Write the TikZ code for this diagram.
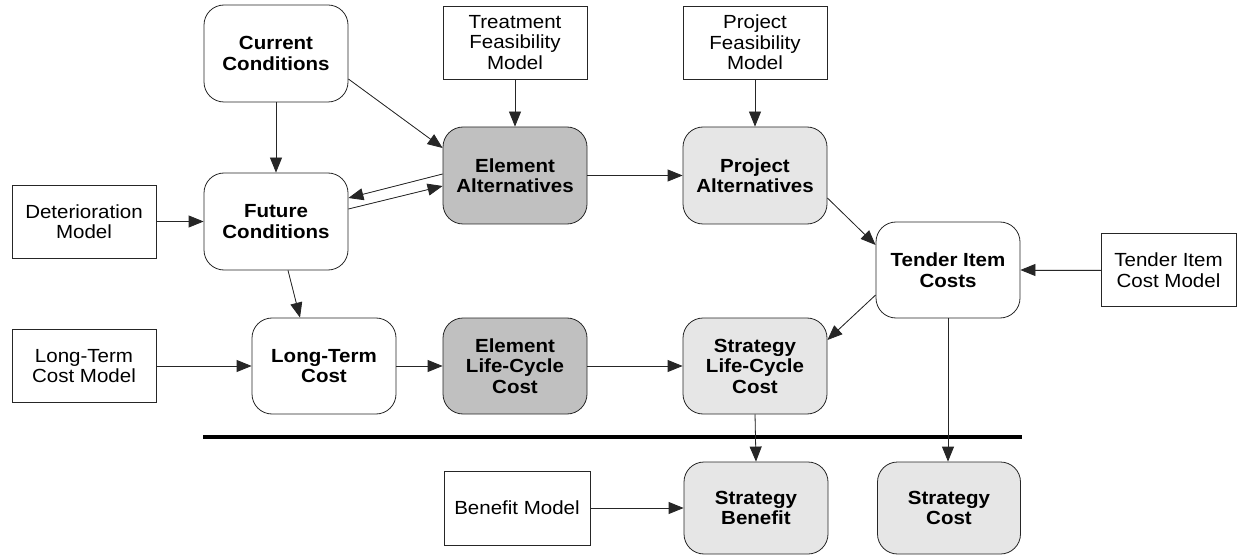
\documentclass[tikz,border=0pt]{standalone}
\usepackage{fontspec}
\setmainfont{Liberation Sans}[FakeStretch=1.08]
\usetikzlibrary{arrows.meta}
\newcommand\diafs{\fontsize{19}{20.5}\selectfont}
\definecolor{darkfill}{HTML}{C0C0C0}
\definecolor{lightfill}{HTML}{E6E6E6}
\tikzset{
  rbox/.style={draw=black!85, line width=0.8pt, rounded corners=20pt, minimum width=144pt, minimum height=96pt, align=center, font=\bfseries\diafs, inner sep=0pt},
  mbox/.style={draw=black!85, line width=0.8pt, minimum width=144pt, minimum height=73pt, align=center, font=\diafs, inner sep=0pt},
  arr/.style={-{Triangle[length=15pt,width=12pt]}, line width=0.8pt, draw=black!85, fill=black},
}
\begin{document}
\begin{tikzpicture}[x=1pt,y=-1pt]
\useasboundingbox (0,0) rectangle (1248,556);
% model boxes
\node[mbox] (tfm) at (515,42.5) {Treatment\\Feasibility\\Model};
\node[mbox] (pfm) at (755,42.5) {Project\\Feasibility\\Model};
\node[mbox] (dm) at (84,221.5) {Deterioration\\Model};
\node[mbox] (ltcm) at (84,366) {Long-Term\\Cost Model};
\node[mbox, minimum width=135pt] (ticm) at (1168.5,270) {Tender Item\\Cost Model};
\node[mbox, minimum width=146pt, minimum height=74pt] (bm) at (517,508) {Benefit Model};
% process boxes
\node[rbox, minimum height=97pt] (cc) at (276,53.5) {Current\\Conditions};
\node[rbox, minimum height=97pt] (fc) at (276,221.5) {Future\\Conditions};
\node[rbox, fill=darkfill, minimum height=97pt] (ea) at (515,175.5) {Element\\Alternatives};
\node[rbox, fill=lightfill, minimum height=97pt] (pa) at (755,175.5) {Project\\Alternatives};
\node[rbox] (tic) at (948,270) {Tender Item\\Costs};
\node[rbox] (ltc) at (324,366) {Long-Term\\Cost};
\node[rbox, fill=darkfill] (elcc) at (515,366) {Element\\Life-Cycle\\Cost};
\node[rbox, fill=lightfill] (slcc) at (755,366) {Strategy\\Life-Cycle\\Cost};
\node[rbox, fill=lightfill, minimum height=92pt] (sb) at (756,508) {Strategy\\Benefit};
\node[rbox, fill=lightfill, minimum height=92pt, minimum width=143pt] (sc) at (949,508) {Strategy\\Cost};
% separator
\draw[line width=3.5pt] (203,437) -- (1022,437);
% connectors
\draw[arr] (cc.south) -- (fc.north);
\draw[arr] ([yshift=-25.5pt]cc.east) -- ([yshift=27.5pt]ea.west);
\draw[arr] (tfm.south) -- (ea.north);
\draw[arr] (pfm.south) -- (pa.north);
\draw[arr] ([yshift=1.5pt]ea.west) -- ([yshift=23.5pt]fc.east);
\draw[arr] ([yshift=12.5pt]fc.east) -- ([yshift=-10.5pt]ea.west);
\draw[arr] (ea.east) -- (pa.west);
\draw[arr] (dm.east) -- (fc.west);
\draw[arr] ([yshift=-22.5pt]pa.east) -- ([yshift=25pt]tic.west);
\draw[arr] (ticm.west) -- (tic.east);
\draw[arr] ([yshift=-25pt]tic.west) -- ([yshift=26pt]slcc.east);
\draw[arr] ([xshift=12pt]fc.south) -- ([xshift=-24pt]ltc.north);
\draw[arr] (ltcm.east) -- (ltc.west);
\draw[arr] (ltc.east) -- (elcc.west);
\draw[arr] (elcc.east) -- (slcc.west);
\draw[arr] (slcc.south) -- (sb.north);
\draw[arr] (tic.south) -- (tic.south |- sc.north);
\draw[arr] (bm.east) -- (sb.west);
\end{tikzpicture}
\end{document}
